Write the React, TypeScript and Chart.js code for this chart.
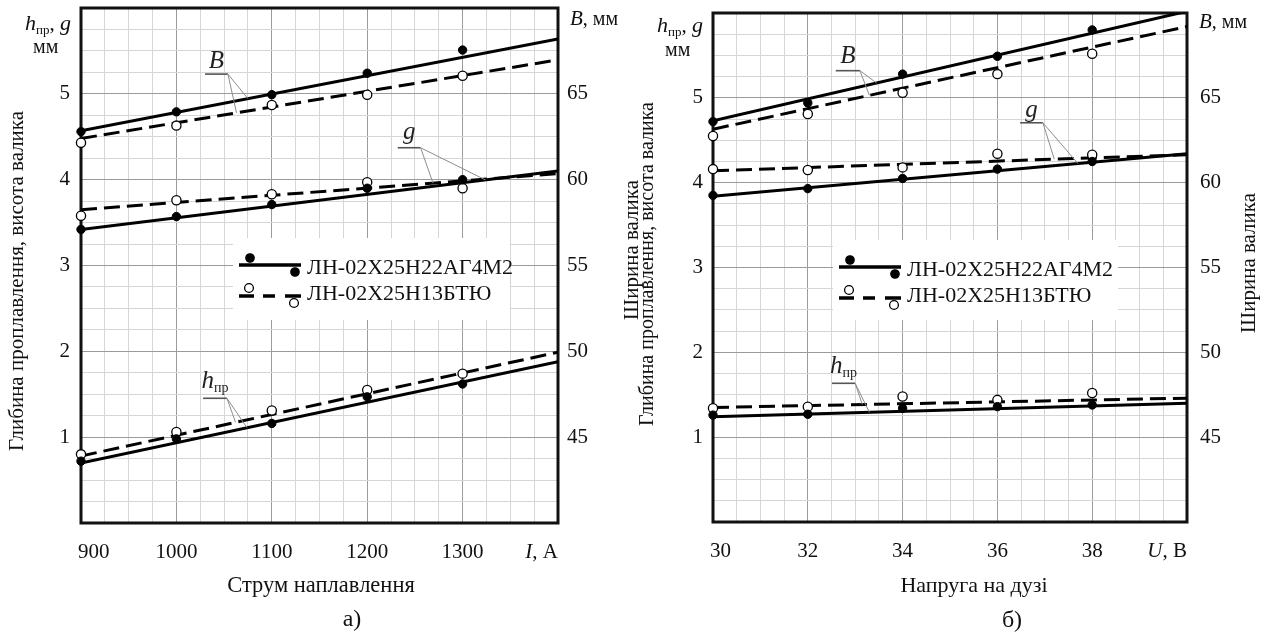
import React, { useEffect, useRef } from "react";
import { Chart, registerables } from "chart.js";

Chart.register(...registerables);

const SERIF = "'Liberation Serif', 'Times New Roman', serif";
Chart.defaults.font.family = SERIF;
Chart.defaults.color = "#000";

// ---------- shared ----------
const alloyNames = ["ЛН-02Х25Н22АГ4М2", "ЛН-02Х25Н13БТЮ"];
const leftTickValues = [1, 2, 3, 4, 5];
const rightTickValues = [45, 50, 55, 60, 65];

// ---------- panel а : current ----------
const currentValues = [900, 1000, 1100, 1200, 1300];
const currentTickLabels = ["900", "1000", "1100", "1200", "1300"];
const currentFitRange = [900, 1400];
const aWidthLN22 = [62.8, 63.95, 64.95, 66.2, 67.55];
const aWidthLN13 = [62.15, 63.15, 64.35, 64.95, 66.05];
const aHeightLN22 = [3.42, 3.57, 3.71, 3.9, 4.0];
const aHeightLN13 = [3.58, 3.76, 3.83, 3.97, 3.9];
const aDepthLN22 = [0.72, 0.98, 1.16, 1.47, 1.62];
const aDepthLN13 = [0.8, 1.06, 1.31, 1.55, 1.74];
const aWidthFitLN22 = [62.85, 68.2];
const aWidthFitLN13 = [62.4, 66.98];
const aHeightFitLN22 = [3.42, 4.1];
const aHeightFitLN13 = [3.65, 4.07];
const aDepthFitLN22 = [0.7, 1.88];
const aDepthFitLN13 = [0.78, 1.99];

// ---------- panel б : voltage ----------
const voltageValues = [30, 32, 34, 36, 38];
const voltageTickLabels = ["30", "32", "34", "36", "38"];
const voltageFitRange = [30, 40];
const bWidthLN22 = [63.6, 64.7, 66.4, 67.45, 69.0];
const bWidthLN13 = [62.75, 64.05, 65.3, 66.4, 67.6];
const bHeightLN22 = [3.85, 3.93, 4.05, 4.16, 4.25];
const bHeightLN13 = [4.16, 4.15, 4.18, 4.34, 4.33];
const bDepthLN22 = [1.26, 1.27, 1.34, 1.36, 1.38];
const bDepthLN13 = [1.34, 1.36, 1.48, 1.44, 1.52];
const bWidthFitLN22 = [63.65, 70.1];
const bWidthFitLN13 = [63.15, 69.2];
const bHeightFitLN22 = [3.84, 4.34];
const bHeightFitLN13 = [4.14, 4.33];
const bDepthFitLN22 = [1.24, 1.4];
const bDepthFitLN13 = [1.35, 1.46];

// ---------- styling ----------
const MAJOR_GRID = "#9b9b9b";
const MINOR_GRID = "#d6d6d6";
const font = (size: number, italic = false) => `${italic ? "italic " : ""}${size}px ${SERIF}`;

type Part = { t: string; f: string; dy?: number };
type Group = { pts: number[]; fit: number[]; axis: string; filled: boolean };
type Leader = { x: number; g: string };
type Ann = { parts: Part[]; x1: number; x2: number; y: number; dy: number; leaders: Leader[] };

interface Panel {
  xValues: number[];
  xTickLabels: string[];
  fitX: number[];
  xMin: number;
  xMax: number;
  xMinor: number;
  xMajor: number;
  groups: Record<string, Group>;
  anns: Ann[];
  area: { padL: number; padR: number; padT: number; leftW: number; rightW: number; bottomH: number };
  yPad: number;
  y1Pad: number;
  xPad: number;
  legendBox: { dx: number; dy: number; w: number; h: number };
  yTitle: { t: string; x: number; y: number; s: number };
  y1Title: { t: string; x: number; y: number; s: number };
  xTitle: { t: string; x: number; y: number; s: number };
  panelLabel: { t: string; x: number; y: number; s: number };
  yUnit: { x: number; y: number };
  mmUnit: { x: number; y: number };
  y1Unit: { x: number; y: number };
  xUnit: Part[];
}

const hLabel = (big: number, small: number, d: number): Part[] => [
  { t: "h", f: font(big, true) },
  { t: "пр", f: font(small), dy: d },
];

const panelA: Panel = {
  xValues: currentValues,
  xTickLabels: currentTickLabels,
  fitX: currentFitRange,
  xMin: 900,
  xMax: 1400,
  xMinor: 25,
  xMajor: 100,
  groups: {
    B1: { pts: aWidthLN22, fit: aWidthFitLN22, axis: "y1", filled: true },
    B2: { pts: aWidthLN13, fit: aWidthFitLN13, axis: "y1", filled: false },
    g1: { pts: aHeightLN22, fit: aHeightFitLN22, axis: "y", filled: true },
    g2: { pts: aHeightLN13, fit: aHeightFitLN13, axis: "y", filled: false },
    h1: { pts: aDepthLN22, fit: aDepthFitLN22, axis: "y", filled: true },
    h2: { pts: aDepthLN13, fit: aDepthFitLN13, axis: "y", filled: false },
  },
  anns: [
    { parts: [{ t: "B", f: font(25, true) }], x1: 1030, x2: 1054, y: 5.23, dy: -6, leaders: [{ x: 1063, g: "B2" }, { x: 1075, g: "B1" }] },
    { parts: [{ t: "g", f: font(25, true) }], x1: 1232, x2: 1256, y: 4.372, dy: -9, leaders: [{ x: 1269, g: "g2" }, { x: 1324, g: "g1" }] },
    { parts: hLabel(25, 14, 4), x1: 1028, x2: 1053, y: 1.453, dy: -10, leaders: [{ x: 1062, g: "h2" }, { x: 1074, g: "h1" }] },
  ],
  area: { padL: 0, padR: 632, padT: 8, leftW: 81, rightW: 74, bottomH: 111 },
  yPad: 11,
  y1Pad: 9,
  xPad: 17,
  legendBox: { dx: 152, dy: 230, w: 277, h: 82 },
  yTitle: { t: "Глибина проплавлення, висота валика", x: 17, y: 281, s: 21 },
  y1Title: { t: "Ширина валика", x: 632, y: 250, s: 21 },
  xTitle: { t: "Струм наплавлення", x: 321, y: 592, s: 22.5 },
  panelLabel: { t: "а)", x: 352, y: 626, s: 24 },
  yUnit: { x: 25, y: 30 },
  mmUnit: { x: 33, y: 53 },
  y1Unit: { x: 570, y: 25 },
  xUnit: [{ t: "I", f: font(21, true) }, { t: ", А", f: font(21) }],
};

const panelB: Panel = {
  xValues: voltageValues,
  xTickLabels: voltageTickLabels,
  fitX: voltageFitRange,
  xMin: 30,
  xMax: 40,
  xMinor: 0.5,
  xMajor: 2,
  groups: {
    B1: { pts: bWidthLN22, fit: bWidthFitLN22, axis: "y1", filled: true },
    B2: { pts: bWidthLN13, fit: bWidthFitLN13, axis: "y1", filled: false },
    g1: { pts: bHeightLN22, fit: bHeightFitLN22, axis: "y", filled: true },
    g2: { pts: bHeightLN13, fit: bHeightFitLN13, axis: "y", filled: false },
    h1: { pts: bDepthLN22, fit: bDepthFitLN22, axis: "y", filled: true },
    h2: { pts: bDepthLN13, fit: bDepthFitLN13, axis: "y", filled: false },
  },
  anns: [
    { parts: [{ t: "B", f: font(25, true) }], x1: 32.59, x2: 33.1, y: 5.32, dy: -8, leaders: [{ x: 33.3, g: "B2" }, { x: 33.45, g: "B1" }] },
    { parts: [{ t: "g", f: font(25, true) }], x1: 36.48, x2: 36.96, y: 4.706, dy: -6, leaders: [{ x: 37.2, g: "g2" }, { x: 37.7, g: "g1" }] },
    { parts: hLabel(25, 14, 4), x1: 32.51, x2: 33.0, y: 1.635, dy: -10, leaders: [{ x: 33.15, g: "h2" }, { x: 33.3, g: "h1" }] },
  ],
  area: { padL: 632, padR: 0, padT: 13, leftW: 81, rightW: 77, bottomH: 112 },
  yPad: 10,
  y1Pad: 13,
  xPad: 17,
  legendBox: { dx: 120, dy: 227, w: 285, h: 80 },
  yTitle: { t: "Глибина проплавлення, висота валика", x: 648, y: 264, s: 20 },
  y1Title: { t: "Ширина валика", x: 1249, y: 263, s: 21 },
  xTitle: { t: "Напруга на дузі", x: 974, y: 592, s: 22 },
  panelLabel: { t: "б)", x: 1012, y: 627, s: 24 },
  yUnit: { x: 657, y: 32 },
  mmUnit: { x: 665, y: 56 },
  y1Unit: { x: 1199, y: 28 },
  xUnit: [{ t: "U", f: font(21, true) }, { t: ", В", f: font(21) }],
};

// ---------- helpers ----------
function richWidth(ctx: CanvasRenderingContext2D, parts: Part[]) {
  let w = 0;
  for (const p of parts) {
    ctx.font = p.f;
    w += ctx.measureText(p.t).width;
  }
  return w;
}

function drawRich(
  ctx: CanvasRenderingContext2D,
  parts: Part[],
  x: number,
  y: number,
  align: "left" | "center" | "right",
  baseline: CanvasTextBaseline = "alphabetic"
) {
  const w = richWidth(ctx, parts);
  let cx = align === "left" ? x : align === "center" ? x - w / 2 : x - w;
  ctx.textAlign = "left";
  ctx.textBaseline = baseline;
  for (const p of parts) {
    ctx.font = p.f;
    ctx.fillText(p.t, cx, y + (p.dy || 0));
    cx += ctx.measureText(p.t).width;
  }
}

function interp(xs: number[], ys: number[], x: number) {
  const t = (x - xs[0]) / (xs[1] - xs[0]);
  return ys[0] + t * (ys[1] - ys[0]);
}

function buildDatasets(p: Panel) {
  const ds: any[] = [];
  Object.values(p.groups).forEach((g) => {
    ds.push({
      data: p.xValues.map((x, i) => ({ x, y: g.pts[i] })),
      yAxisID: g.axis,
      showLine: false,
      clip: false,
      pointRadius: g.filled ? 4.2 : 4.6,
      pointBackgroundColor: g.filled ? "#000" : "#fff",
      pointBorderColor: "#000",
      pointBorderWidth: g.filled ? 1 : 1.3,
      order: 0,
    });
    ds.push({
      data: p.fitX.map((x, i) => ({ x, y: g.fit[i] })),
      yAxisID: g.axis,
      showLine: true,
      pointRadius: 0,
      borderColor: "#000",
      borderWidth: 3,
      borderDash: g.filled ? [] : [16, 7],
      order: 1,
    });
  });
  return ds;
}

function makePlugin(p: Panel) {
  return {
    id: "panelDecor",
    beforeDatasetsDraw(chart: any) {
      const { ctx, chartArea: ca } = chart;
      const lb = p.legendBox;
      ctx.save();
      ctx.fillStyle = "#fff";
      ctx.fillRect(ca.left + lb.dx, ca.top + lb.dy, lb.w, lb.h);
      // frame
      ctx.strokeStyle = "#111";
      ctx.lineWidth = 3;
      ctx.setLineDash([]);
      ctx.strokeRect(ca.left, ca.top, ca.right - ca.left, ca.bottom - ca.top);
      ctx.restore();
    },
    afterDatasetsDraw(chart: any) {
      const { ctx, chartArea: ca, scales } = chart;
      const xs = scales.x;
      const ys = scales.y;
      ctx.save();
      ctx.setLineDash([]);

      // annotations
      ctx.fillStyle = "#222";
      for (const a of p.anns) {
        const px1 = xs.getPixelForValue(a.x1);
        const px2 = xs.getPixelForValue(a.x2);
        const py = ys.getPixelForValue(a.y);
        ctx.strokeStyle = "#555";
        ctx.lineWidth = 1.6;
        ctx.beginPath();
        ctx.moveTo(px1, py);
        ctx.lineTo(px2, py);
        ctx.stroke();
        ctx.strokeStyle = "#8d8d8d";
        ctx.lineWidth = 1;
        for (const l of a.leaders) {
          const g = p.groups[l.g];
          const tx = xs.getPixelForValue(l.x);
          const ty = scales[g.axis].getPixelForValue(interp(p.fitX, g.fit, l.x));
          ctx.beginPath();
          ctx.moveTo(px2, py);
          ctx.lineTo(tx, ty);
          ctx.stroke();
        }
        drawRich(ctx, a.parts, (px1 + px2) / 2, py + a.dy, "center");
      }

      // legend
      const lx = ca.left + p.legendBox.dx;
      const ly = ca.top + p.legendBox.dy;
      ctx.strokeStyle = "#000";
      ctx.lineWidth = 3.5;
      ctx.beginPath();
      ctx.moveTo(lx + 6, ly + 27);
      ctx.lineTo(lx + 68, ly + 27);
      ctx.stroke();
      const segs = [
        [6, 21],
        [30, 42],
        [52, 68],
      ];
      ctx.beginPath();
      for (const s of segs) {
        ctx.moveTo(lx + s[0], ly + 58);
        ctx.lineTo(lx + s[1], ly + 58);
      }
      ctx.stroke();
      const dot = (x: number, y: number, filled: boolean) => {
        ctx.beginPath();
        ctx.arc(x, y, filled ? 4.2 : 4.4, 0, Math.PI * 2);
        ctx.fillStyle = filled ? "#000" : "#fff";
        ctx.fill();
        ctx.lineWidth = 1.3;
        ctx.strokeStyle = "#000";
        ctx.stroke();
      };
      dot(lx + 17, ly + 20, true);
      dot(lx + 62, ly + 34, true);
      dot(lx + 16, ly + 50, false);
      dot(lx + 61, ly + 65, false);
      ctx.fillStyle = "#111";
      ctx.font = font(22);
      ctx.textAlign = "left";
      ctx.textBaseline = "alphabetic";
      ctx.fillText(alloyNames[0], lx + 74, ly + 36);
      ctx.fillText(alloyNames[1], lx + 74, ly + 62);
      ctx.restore();
    },
    afterDraw(chart: any) {
      const { ctx, chartArea: ca, scales } = chart;
      const xs = scales.x;
      ctx.save();
      ctx.fillStyle = "#111";
      // first x tick label and x unit
      const labelY = ca.bottom + p.xPad + (21 * 1.2) / 2;
      drawRich(ctx, [{ t: p.xTickLabels[0], f: font(21) }], xs.getPixelForValue(p.xValues[0]) - 3, labelY, "left", "middle");
      drawRich(ctx, p.xUnit, xs.getPixelForValue(p.xMax), labelY, "right", "middle");
      // y units
      drawRich(
        ctx,
        [...hLabel(22, 13, 4), { t: ", ", f: font(21) }, { t: "g", f: font(22, true) }],
        p.yUnit.x,
        p.yUnit.y,
        "left"
      );
      drawRich(ctx, [{ t: "мм", f: font(20) }], p.mmUnit.x, p.mmUnit.y, "left");
      drawRich(ctx, [{ t: "B", f: font(21, true) }, { t: ", мм", f: font(20) }], p.y1Unit.x, p.y1Unit.y, "left");
      // axis titles
      drawRich(ctx, [{ t: p.xTitle.t, f: font(p.xTitle.s) }], p.xTitle.x, p.xTitle.y, "center");
      drawRich(ctx, [{ t: p.panelLabel.t, f: font(p.panelLabel.s) }], p.panelLabel.x, p.panelLabel.y, "center");
      for (const tt of [p.yTitle, p.y1Title]) {
        ctx.save();
        ctx.translate(tt.x, tt.y);
        ctx.rotate(-Math.PI / 2);
        ctx.font = font(tt.s);
        ctx.textAlign = "center";
        ctx.textBaseline = "middle";
        ctx.fillText(tt.t, 0, 0);
        ctx.restore();
      }
      ctx.restore();
    },
  };
}

function buildConfig(p: Panel): any {
  const near = (v: number, step: number) => Math.abs(v / step - Math.round(v / step)) < 1e-6;
  const tickFont = { family: SERIF, size: 21 };
  const zeroPad = (s: any) => {
    s.paddingTop = 0;
    s.paddingBottom = 0;
    s.paddingLeft = 0;
    s.paddingRight = 0;
  };
  return {
    type: "scatter",
    data: { datasets: buildDatasets(p) },
    options: {
      responsive: false,
      animation: false,
      events: [],
      layout: {
        padding: { left: p.area.padL, right: p.area.padR, top: p.area.padT, bottom: 0 },
        autoPadding: false,
      },
      plugins: { legend: { display: false }, tooltip: { enabled: false }, title: { display: false } },
      scales: {
        x: {
          type: "linear",
          position: "bottom",
          min: p.xMin,
          max: p.xMax,
          afterFit: (s: any) => {
            s.height = p.area.bottomH;
            zeroPad(s);
          },
          border: { display: false },
          grid: {
            drawTicks: false,
            lineWidth: 1,
            color: (c: any) => (c.tick && near(c.tick.value, p.xMajor) ? MAJOR_GRID : MINOR_GRID),
          },
          ticks: {
            stepSize: p.xMinor,
            autoSkip: false,
            maxRotation: 0,
            padding: p.xPad,
            font: tickFont,
            color: "#111",
            callback: (v: number) => {
              const i = p.xValues.indexOf(v);
              return i > 0 ? p.xTickLabels[i] : "";
            },
          },
        },
        y: {
          type: "linear",
          position: "left",
          min: 0,
          max: 6,
          afterFit: (s: any) => {
            s.width = p.area.leftW;
            zeroPad(s);
          },
          border: { display: false },
          grid: {
            drawTicks: false,
            lineWidth: 1,
            color: (c: any) => (c.tick && near(c.tick.value, 1) ? MAJOR_GRID : MINOR_GRID),
          },
          ticks: {
            stepSize: 0.25,
            autoSkip: false,
            padding: p.yPad,
            font: tickFont,
            color: "#111",
            callback: (v: number) => (leftTickValues.includes(v) ? String(v) : ""),
          },
        },
        y1: {
          type: "linear",
          position: "right",
          min: 40,
          max: 70,
          afterFit: (s: any) => {
            s.width = p.area.rightW;
            zeroPad(s);
          },
          border: { display: false },
          grid: { display: false, drawTicks: false },
          ticks: {
            stepSize: 5,
            autoSkip: false,
            padding: p.y1Pad,
            font: tickFont,
            color: "#111",
            callback: (v: number) => (rightTickValues.includes(v) ? String(v) : ""),
          },
        },
      },
    },
    plugins: [makePlugin(p)],
  };
}

export default function App() {
  const refA = useRef<HTMLCanvasElement>(null);
  const refB = useRef<HTMLCanvasElement>(null);
  useEffect(() => {
    const a = new Chart(refA.current as HTMLCanvasElement, buildConfig(panelA));
    const b = new Chart(refB.current as HTMLCanvasElement, buildConfig(panelB));
    return () => {
      a.destroy();
      b.destroy();
    };
  }, []);
  const cs: React.CSSProperties = { position: "absolute", left: 0, top: 0, width: 1264, height: 634 };
  return (
    <div style={{ position: "absolute", left: 0, top: 0, width: 1264, height: 634, background: "#fff", overflow: "hidden" }}>
      <canvas ref={refA} width={1264} height={634} style={cs} />
      <canvas ref={refB} width={1264} height={634} style={cs} />
    </div>
  );
}
